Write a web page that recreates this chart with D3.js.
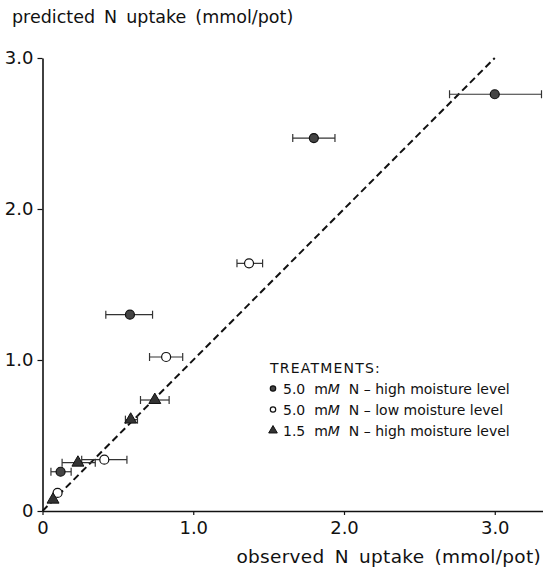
<!DOCTYPE html>
<html>
<head>
<meta charset="utf-8">
<script src="https://cdn.jsdelivr.net/npm/d3@7"></script>
<style>
  body { margin: 0; background: white; }
  text { font-family: "DejaVu Sans", sans-serif; fill: #111; }
</style>
</head>
<body>
<div class="chart"></div>
<script>
// observed (x), predicted (y), error bar on observed (lo, hi)
const highN_obs = [3.0, 1.80, 0.58, 0.12]
const highN_pred = [2.76, 2.47, 1.30, 0.26]
const highN_lo = [2.70, 1.66, 0.42, 0.056]
const highN_hi = [3.31, 1.94, 0.73, 0.19]

const lowM_obs = [1.37, 0.82, 0.41, 0.10]
const lowM_pred = [1.64, 1.02, 0.34, 0.12]
const lowM_lo = [1.29, 0.71, 0.26, 0.10]
const lowM_hi = [1.46, 0.93, 0.56, 0.10]

const lowN_obs = [0.745, 0.585, 0.235, 0.07]
const lowN_pred = [0.735, 0.605, 0.32, 0.075]
const lowN_lo = [0.65, 0.55, 0.13, 0.07]
const lowN_hi = [0.84, 0.63, 0.35, 0.07]

const xTicks = [0, 1, 2, 3]
const xTickLabels = ["0", "1.0", "2.0", "3.0"]
const yTicks = [0, 1, 2, 3]
const yTickLabels = ["0", "1.0", "2.0", "3.0"]

const legendItems = [
  { shape: "filled", conc: "5.0", level: "high moisture level" },
  { shape: "open", conc: "5.0", level: "low moisture level" },
  { shape: "triangle", conc: "1.5", level: "high moisture level" },
]

function drawChart() {
  const dimensions = {
    width: 543,
    height: 570,
    margin: { top: 58, right: 0, bottom: 59, left: 42.5 },
  }
  dimensions.boundedWidth = dimensions.width - dimensions.margin.left - dimensions.margin.right
  dimensions.boundedHeight = dimensions.height - dimensions.margin.top - dimensions.margin.bottom

  const wrapper = d3.select(".chart")
    .append("svg")
    .attr("width", dimensions.width)
    .attr("height", dimensions.height)

  const bounds = wrapper.append("g")
    .attr("transform", `translate(${dimensions.margin.left},${dimensions.margin.top})`)

  const xScale = d3.scaleLinear()
    .domain([0, 3.32])
    .range([0, dimensions.boundedWidth])

  const yScale = d3.scaleLinear()
    .domain([0, 3])
    .range([dimensions.boundedHeight, 0])

  // axes
  const xAxisGenerator = d3.axisBottom(xScale)
    .tickValues(xTicks)
    .tickFormat((d, i) => xTickLabels[i])
    .tickSize(4)
    .tickSizeOuter(0)
  const xAxis = bounds.append("g")
    .attr("transform", `translate(0,${dimensions.boundedHeight})`)
    .call(xAxisGenerator)
  xAxis.select(".domain").attr("stroke", "#111").attr("stroke-width", 1.6)
  xAxis.selectAll(".tick line").attr("stroke", "#111").attr("stroke-width", 1.2)
  xAxis.selectAll(".tick text")
    .attr("y", 10)
    .style("font-size", "18px")
    .style("font-family", "DejaVu Sans, sans-serif")
    .attr("fill", "#111")

  const yAxisGenerator = d3.axisLeft(yScale)
    .tickValues(yTicks)
    .tickFormat((d, i) => yTickLabels[i])
    .tickSize(5)
    .tickSizeOuter(0)
  const yAxis = bounds.append("g").call(yAxisGenerator)
  yAxis.select(".domain").attr("stroke", "#111").attr("stroke-width", 1.6)
  yAxis.selectAll(".tick line").attr("stroke", "#111").attr("stroke-width", 1.2)
  yAxis.selectAll(".tick text")
    .attr("x", -9)
    .style("font-size", "18px")
    .style("font-family", "DejaVu Sans, sans-serif")
    .attr("fill", "#111")

  wrapper.append("text")
    .attr("x", 12)
    .attr("y", 23)
    .style("font-size", "17.5px")
    .style("word-spacing", "3.5px")
    .text("predicted N uptake (mmol/pot)")

  wrapper.append("text")
    .attr("x", 541)
    .attr("y", 563)
    .style("font-size", "18.5px")
    .style("word-spacing", "4px")
    .style("letter-spacing", "0.3px")
    .style("text-anchor", "end")
    .text("observed N uptake (mmol/pot)")

  // 1:1 line
  bounds.append("line")
    .attr("x1", xScale(0))
    .attr("y1", yScale(0))
    .attr("x2", xScale(3))
    .attr("y2", yScale(3))
    .attr("stroke", "#111")
    .attr("stroke-width", 2)
    .attr("stroke-dasharray", "7 4")

  const series = [
    { shape: "filled", obs: highN_obs, pred: highN_pred, lo: highN_lo, hi: highN_hi },
    { shape: "open", obs: lowM_obs, pred: lowM_pred, lo: lowM_lo, hi: lowM_hi },
    { shape: "triangle", obs: lowN_obs, pred: lowN_pred, lo: lowN_lo, hi: lowN_hi },
  ]

  const points = []
  series.forEach(s => s.obs.forEach((o, i) => points.push({
    shape: s.shape, x: o, y: s.pred[i], lo: s.lo[i], hi: s.hi[i],
  })))

  const errGroup = bounds.append("g")
    .attr("stroke", "#333")
    .attr("stroke-width", 1.2)
  const withBars = points.filter(d => d.hi - d.lo > 0.001)
  errGroup.selectAll(".bar").data(withBars).enter().append("line")
    .attr("x1", d => xScale(d.lo))
    .attr("x2", d => xScale(d.hi))
    .attr("y1", d => yScale(d.y))
    .attr("y2", d => yScale(d.y))
  errGroup.selectAll(".capL").data(withBars).enter().append("line")
    .attr("x1", d => xScale(d.lo))
    .attr("x2", d => xScale(d.lo))
    .attr("y1", d => yScale(d.y) - 4)
    .attr("y2", d => yScale(d.y) + 4)
  errGroup.selectAll(".capR").data(withBars).enter().append("line")
    .attr("x1", d => xScale(d.hi))
    .attr("x2", d => xScale(d.hi))
    .attr("y1", d => yScale(d.y) - 4)
    .attr("y2", d => yScale(d.y) + 4)

  function drawMarker(sel, shape, r, triSize) {
    if (shape === "triangle") {
      sel.append("path")
        .attr("d", d3.symbol().type(d3.symbolTriangle).size(triSize)())
        .attr("fill", "#333")
        .attr("stroke", "#111")
        .attr("stroke-width", 1)
    } else {
      sel.append("circle")
        .attr("r", r)
        .attr("fill", shape === "filled" ? "#444" : "white")
        .attr("stroke", "#111")
        .attr("stroke-width", 1.2)
    }
  }

  const markers = bounds.selectAll(".marker").data(points).enter().append("g")
    .attr("transform", d => `translate(${xScale(d.x)},${yScale(d.y)})`)
  markers.each(function (d) { drawMarker(d3.select(this), d.shape, 4.5, 62) })

  // legend
  const legend = wrapper.append("g").attr("transform", "translate(270,373)")
  legend.append("text")
    .style("font-size", "14px")
    .style("letter-spacing", "1.2px")
    .text("TREATMENTS:")
  const rows = legend.selectAll(".row").data(legendItems).enter().append("g")
    .attr("transform", (d, i) => `translate(0,${20.5 + i * 21})`)
  rows.each(function (d) {
    const g = d3.select(this).append("g").attr("transform", "translate(3,-5)")
    drawMarker(g, d.shape, 2.7, 32)
  })
  const label = rows.append("text")
    .attr("x", 13)
    .style("font-size", "14px")
  label.append("tspan").text(d => `${d.conc}\u00a0\u00a0m`)
  label.append("tspan").style("font-style", "italic").text("M")
  label.append("tspan").text(d => `\u00a0\u00a0N \u2013 ${d.level}`)
}

drawChart()
</script>
</body>
</html>
